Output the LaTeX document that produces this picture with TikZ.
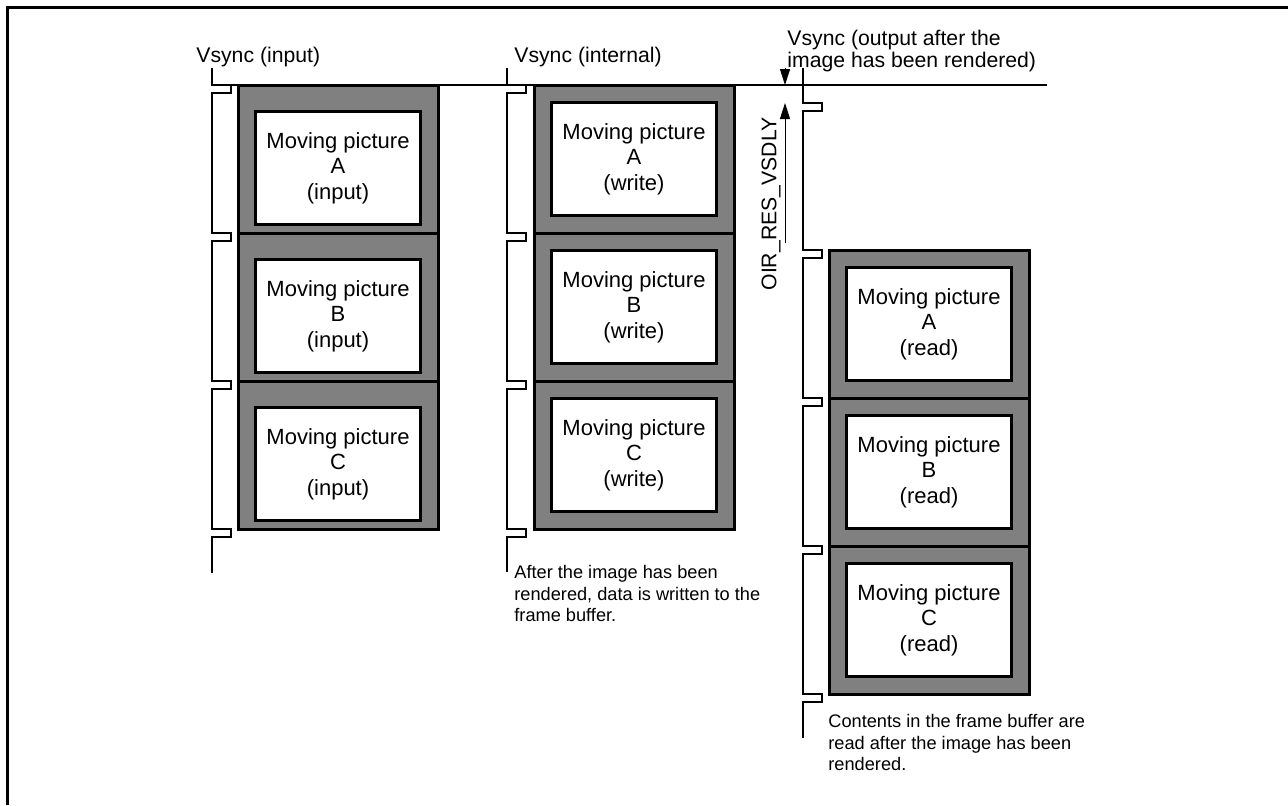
\documentclass[tikz,border=0pt]{standalone}
\usepackage{fontspec}
\setmainfont{Liberation Sans}
\usetikzlibrary{arrows.meta,positioning,calc}
\definecolor{frmgray}{RGB}{128,128,128}
\tikzset{
  fbox/.style={draw, line width=1.5pt, fill=frmgray, minimum width=100pt,
               minimum height=74pt, inner sep=0pt, outer sep=0pt},
  pbox/.style={draw, line width=1.5pt, fill=white, minimum width=82.5pt,
               minimum height=56.5pt, inner sep=0pt, align=center,
               font=\fontsize{11}{12.75}\selectfont},
  sigline/.style={line width=1.2pt},
  refline/.style={line width=0.65pt},
  vlbl/.style={inner sep=0pt, align=left, font=\fontsize{10.6}{9}\selectfont},
  notetxt/.style={inner sep=0pt, align=left, font=\fontsize{9.1}{10.8}\selectfont},
  dlyarr/.style={-{Triangle[length=8pt, width=5pt]}, line width=0.5pt},
}

\begin{document}
\begin{tikzpicture}[x=0.5pt, y=-0.5pt]
  \useasboundingbox (0,0) rectangle (1288,805);
  \draw[line width=1.75pt] (7.5,805) -- (7.5,7.5) -- (1288,7.5);

  % input frames
  \node[fbox] (ia) at (338,159) {};
  \node[fbox, below=0pt of ia] (ib) {};
  \node[fbox, below=0pt of ib] (ic) {};
  \node[pbox] (pia) at ($(ia)+(0,9)$) {Moving picture\\A\\(input)};
  \node[pbox] (pib) at ($(ib)+(0,9)$) {Moving picture\\B\\(input)};
  \node[pbox] (pic) at ($(ic)+(0,9)$) {Moving picture\\C\\(input)};

  % internal (write) frames
  \node[fbox] (wa) at (634,159) {};
  \node[fbox, below=0pt of wa] (wb) {};
  \node[fbox, below=0pt of wb] (wc) {};
  \node[pbox] (pwa) at (wa) {Moving picture\\A\\(write)};
  \node[pbox] (pwb) at (wb) {Moving picture\\B\\(write)};
  \node[pbox] (pwc) at (wc) {Moving picture\\C\\(write)};

  % output (read) frames
  \node[fbox] (ra) at (929,324) {};
  \node[fbox, below=0pt of ra] (rb) {};
  \node[fbox, below=0pt of rb] (rc) {};
  \node[pbox] (pra) at (ra) {Moving picture\\A\\(read)};
  \node[pbox] (prb) at (rb) {Moving picture\\B\\(read)};
  \node[pbox] (prc) at (rc) {Moving picture\\C\\(read)};

  % vsync lines
  \coordinate (s1t) at (212,68);
  \coordinate (s1b) at (212,573);
  \coordinate (s2t) at (507,68);
  \coordinate (s2b) at (507,572);
  \coordinate (s3t) at (803,68);
  \coordinate (s3b) at (803,738);
  \coordinate (dly) at (803,103);
  \coordinate (refend) at (1047,85);

  \draw[refline] (s1t |- ia.north) -- (refend);
  \draw[sigline] (s1t) \foreach \f in {ia,ib,ic} {
      -- (s1t |- \f.north) -- ++(19,0) -- ++(0,8) -- ++(-19,0) }
    -- (s1t |- ic.south) -- ++(19,0) -- ++(0,8) -- ++(-19,0) -- (s1b);
  \draw[sigline] (s2t) \foreach \f in {wa,wb,wc} {
      -- (s2t |- \f.north) -- ++(19,0) -- ++(0,8) -- ++(-19,0) }
    -- (s2t |- wc.south) -- ++(19,0) -- ++(0,8) -- ++(-19,0) -- (s2b);
  \draw[sigline] (s3t) -- (dly) -- ++(19,0) -- ++(0,8) -- ++(-19,0)
    \foreach \f in {ra,rb,rc} {
      -- (s3t |- \f.north) -- ++(19,0) -- ++(0,8) -- ++(-19,0) }
    -- (s3t |- rc.south) -- ++(19,0) -- ++(0,8) -- ++(-19,0) -- (s3b);

  % labels
  \node[vlbl, anchor=base west] (v1) at (196,62) {Vsync (input)};
  \node[vlbl, anchor=base west] (v2) at (514,62) {Vsync (internal)};
  \node[vlbl, anchor=south west] (v3) at (787,72)
       {Vsync (output after the\\image has been rendered)};

  % delay
  \coordinate (a1) at (785,68);
  \coordinate (a2) at (785,243);
  \draw[dlyarr] (a1) -- (a1 |- refend);
  \draw[dlyarr] (a2) -- (a2 |- dly);
  \node[vlbl, rotate=90] (dlylbl) at (771,204) {OIR\_RES\_VSDLY};

  \node[notetxt, anchor=north west] (n2) at (514,565)
       {After the image has been\\rendered, data is written to the\\frame buffer.};
  \node[notetxt, anchor=north west] (n3) at (828,714)
       {Contents in the frame buffer are\\read after the image has been\\rendered.};
\end{tikzpicture}
\end{document}
